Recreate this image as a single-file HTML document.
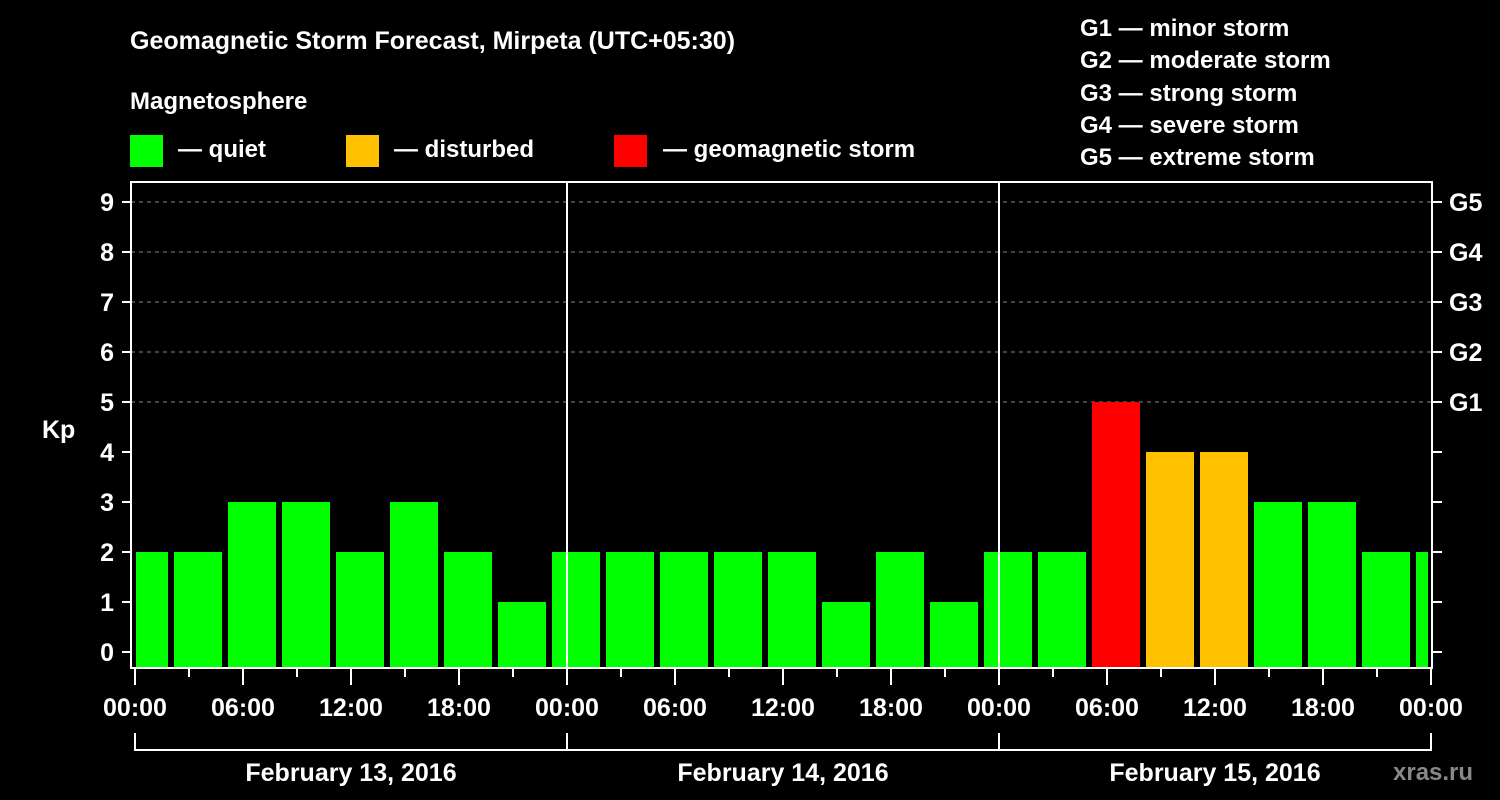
<!DOCTYPE html>
<html><head><meta charset="utf-8"><style>
html,body{margin:0;padding:0;background:#000;}
svg{display:block;font-family:"Liberation Sans",Arial,sans-serif;font-weight:bold;}
</style></head><body>
<svg id="chart" width="1500" height="800" viewBox="0 0 1500 800" xmlns="http://www.w3.org/2000/svg">
<rect width="1500" height="800" fill="#000"/>
<text x="130" y="49" fill="#fff" font-size="25">Geomagnetic Storm Forecast, Mirpeta (UTC+05:30)</text>
<text x="130" y="109" fill="#fff" font-size="24">Magnetosphere</text>
<g><rect x="130" y="135" width="33" height="32" fill="#00ff00"/><text x="178" y="157" fill="#fff" font-size="24">— quiet</text></g>
<g><rect x="346" y="135" width="33" height="32" fill="#ffc000"/><text x="394" y="157" fill="#fff" font-size="24">— disturbed</text></g>
<g><rect x="614" y="135" width="33" height="32" fill="#ff0000"/><text x="663" y="157" fill="#fff" font-size="24">— geomagnetic storm</text></g>
<g fill="#fff" font-size="24">
<text x="1080" y="36">G1 — minor storm</text>
<text x="1080" y="68">G2 — moderate storm</text>
<text x="1080" y="101">G3 — strong storm</text>
<text x="1080" y="133">G4 — severe storm</text>
<text x="1080" y="165">G5 — extreme storm</text>
</g>
<text x="42" y="438" fill="#fff" font-size="25">Kp</text>
<text x="1393" y="780" fill="#888" font-size="24">xras.ru</text>
<defs><clipPath id="pc"><rect x="136" y="182" width="1292" height="486"/></clipPath></defs>
<g id="grid"></g>
<g id="bars" clip-path="url(#pc)"></g>
<g id="axes"></g>
</svg>
<script>
const kp = [2,2,3,3,2,3,2,1, 2,2,2,2,2,1,2,1, 2,2,5,4,4,3,3,2,2];
const xLabels = ["00:00","06:00","12:00","18:00","00:00","06:00","12:00","18:00","00:00","06:00","12:00","18:00","00:00"];
const dayLabels = ["February 13, 2016","February 14, 2016","February 15, 2016"];
const gLabels = ["G1","G2","G3","G4","G5"];
const yTicks = [0,1,2,3,4,5,6,7,8,9];
const NS="http://www.w3.org/2000/svg";
const x0=135, pxPerHour=18, y0=652, pxPerKp=50, plotL=131, plotR=1432, plotT=182, plotB=668;
const xs = h => x0 + h*pxPerHour;
const ys = v => y0 - v*pxPerKp;
function mk(tag, attrs, parent){const e=document.createElementNS(NS,tag);for(const k in attrs)e.setAttribute(k,attrs[k]);parent.appendChild(e);return e;}
const grid=document.getElementById('grid'), bars=document.getElementById('bars'), axes=document.getElementById('axes');
// gridlines
yTicks.filter(v=>v>=5).forEach(v=>{
  const l=mk('line',{x1:plotL,x2:plotR,y1:ys(v),y2:ys(v),stroke:'#888','stroke-width':1,'stroke-dasharray':'4,4'},grid);
  
  
});
// bars
kp.forEach((v,i)=>{
  const c=xs(0.5+3*i);
  const color=v>=5?'#ff0000':(v>=4?'#ffc000':'#00ff00');
  const r=mk('rect',{x:c-24,y:ys(v),width:48,height:plotB-ys(v),fill:color},bars);
  
  
});
// day separators
[1,2].forEach(d=>{
  const l=mk('line',{x1:xs(24*d),x2:xs(24*d),y1:plotT,y2:plotB,stroke:'#fff','stroke-width':2},axes);
  
  
});
// frame
const fr=mk('rect',{x:plotL,y:plotT,width:plotR-plotL,height:plotB-plotT,fill:'none',stroke:'#fff','stroke-width':2},axes);


// y ticks
yTicks.forEach(v=>{
  mk('line',{x1:122,x2:plotL,y1:ys(v),y2:ys(v),stroke:'#fff','stroke-width':2},axes);
  mk('line',{x1:plotR,x2:1442,y1:ys(v),y2:ys(v),stroke:'#fff','stroke-width':2},axes);
  const t=mk('text',{x:114,y:ys(v)+9,fill:'#fff','font-size':25,'text-anchor':'end'},axes);
  t.textContent=v;
  
  
  if(v>=5){
    const g=mk('text',{x:1449,y:ys(v)+9,fill:'#fff','font-size':25},axes);
    g.textContent=gLabels[v-5];
    
    
  }
});
// x ticks
for(let h=0;h<=72;h+=3){
  const major=h%6===0;
  mk('line',{x1:xs(h),x2:xs(h),y1:plotB,y2:major?685:677,stroke:'#fff','stroke-width':2},axes);
}
xLabels.forEach((s,i)=>{
  const t=mk('text',{x:xs(6*i),y:716,fill:'#fff','font-size':25,'text-anchor':'middle'},axes);
  t.textContent=s;
  
  
});
// day brackets
mk('line',{x1:xs(0),x2:xs(72),y1:750,y2:750,stroke:'#fff','stroke-width':2},axes);
for(let d=0;d<=3;d++) mk('line',{x1:xs(24*d),x2:xs(24*d),y1:733,y2:751,stroke:'#fff','stroke-width':2},axes);
dayLabels.forEach((s,i)=>{
  const t=mk('text',{x:xs(24*i+12),y:781,fill:'#fff','font-size':25,'text-anchor':'middle'},axes);
  t.textContent=s;
  
  
});
</script>
</body></html>
